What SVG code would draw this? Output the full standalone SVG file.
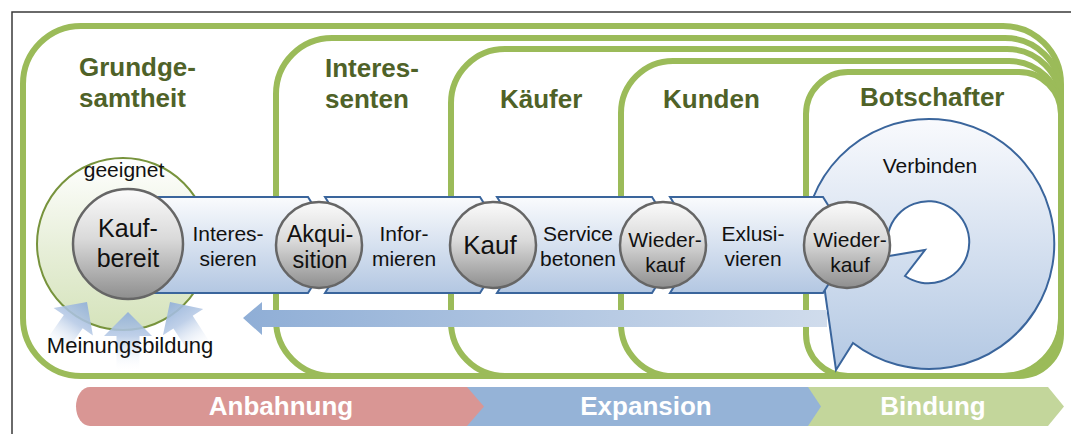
<svg xmlns="http://www.w3.org/2000/svg" width="1071" height="434" viewBox="0 0 1071 434">
  <defs>
    <linearGradient id="gBand" x1="0" y1="0" x2="0" y2="1">
      <stop offset="0" stop-color="#FAFBFD"/>
      <stop offset="1" stop-color="#B3C7E2"/>
    </linearGradient>
    <linearGradient id="gSwirl" x1="0" y1="0" x2="0" y2="1">
      <stop offset="0" stop-color="#F9FAFD"/>
      <stop offset="1" stop-color="#B3C8E3"/>
    </linearGradient>
    <linearGradient id="gBall" x1="0" y1="0" x2="0" y2="1">
      <stop offset="0" stop-color="#FBFBFB"/>
      <stop offset="0.45" stop-color="#DADADA"/>
      <stop offset="1" stop-color="#8E8E8E"/>
    </linearGradient>
    <linearGradient id="gPool" x1="0" y1="0" x2="0" y2="1">
      <stop offset="0" stop-color="#FFFFFF"/>
      <stop offset="0.55" stop-color="#E6EED7"/>
      <stop offset="1" stop-color="#D5E3BB"/>
    </linearGradient>
    <linearGradient id="gPush" x1="0" y1="0" x2="0" y2="1">
      <stop offset="0" stop-color="#93B1D8" stop-opacity="0.95"/>
      <stop offset="0.4" stop-color="#B4C8E5" stop-opacity="0.85"/>
      <stop offset="1" stop-color="#FFFFFF" stop-opacity="0"/>
    </linearGradient>
    <linearGradient id="gBack" gradientUnits="userSpaceOnUse" x1="243" y1="0" x2="827" y2="0">
      <stop offset="0" stop-color="#8FAED6"/>
      <stop offset="1" stop-color="#D0DCEC"/>
    </linearGradient>
    <path id="push" d="M0,0 L24,24 L11.5,24 L11.5,60 L-11.5,60 L-11.5,24 L-24,24 Z"/>
    <style>
      .frame { fill: none; stroke: #9BBB59; stroke-width: 6; }
      .title { font-family: "Liberation Sans", Arial, Helvetica, sans-serif; font-weight: bold; font-size: 26px; fill: #4F6228; }
      .lbl { font-family: "Liberation Sans", Arial, Helvetica, sans-serif; font-size: 21px; fill: #111; text-anchor: middle; }
      .seg { fill: url(#gBand); stroke: #3A659C; stroke-width: 2; stroke-linejoin: miter; }
      .ball { fill: url(#gBall); stroke: #666; stroke-width: 2.5; }
      .phase { font-family: "Liberation Sans", Arial, Helvetica, sans-serif; font-weight: bold; font-size: 26px; fill: #FFFFFF; text-anchor: middle; }
    </style>
  </defs>

  <!-- page border -->
  <path d="M12,434 V12 H1071" fill="none" stroke="#3A3A3A" stroke-width="1.5"/>

  <!-- nested stage frames, sharing right and bottom edges -->
  <g id="stage-grundgesamtheit">
    <path class="frame" d="M81,26 H1003 A58 58 0 0 1 1061,84 V318 A58 58 0 0 1 1003,376 H81 A58 58 0 0 1 23,318 V84 A58 58 0 0 1 81,26 Z"/>
    <text class="title" x="79" y="76">Grundge-</text>
    <text class="title" x="79" y="107">samtheit</text>
  </g>
  <g id="stage-interessenten">
    <path class="frame" d="M332,38 H1005 A56 56 0 0 1 1061,94 V320 A56 56 0 0 1 1005,376 H332 A56 56 0 0 1 276,320 V94 A56 56 0 0 1 332,38 Z"/>
    <text class="title" x="325" y="77">Interes-</text>
    <text class="title" x="325" y="108">senten</text>
  </g>
  <g id="stage-kaeufer">
    <path class="frame" d="M505,49 H1007 A54 54 0 0 1 1061,103 V322 A54 54 0 0 1 1007,376 H505 A54 54 0 0 1 451,322 V103 A54 54 0 0 1 505,49 Z"/>
    <text class="title" x="500" y="108">Käufer</text>
  </g>
  <g id="stage-kunden">
    <path class="frame" d="M673,61 H1009 A52 52 0 0 1 1061,113 V324 A52 52 0 0 1 1009,376 H673 A52 52 0 0 1 621,324 V113 A52 52 0 0 1 673,61 Z"/>
    <text class="title" x="663" y="108">Kunden</text>
  </g>
  <g id="stage-botschafter">
    <path class="frame" d="M848,72 H1019 A42 42 0 0 1 1061,114 V334 A42 42 0 0 1 1019,376 H848 A42 42 0 0 1 806,334 V114 A42 42 0 0 1 848,72 Z"/>
    <text class="title" x="860" y="106">Botschafter</text>
  </g>

  <!-- pool of suitable prospects -->
  <g id="node-geeignet">
    <circle cx="123" cy="244" r="86" fill="url(#gPool)" stroke="#77933C" stroke-width="2"/>
    <text class="lbl" x="124" y="177">geeignet</text>
  </g>

  <!-- opinion forming pushes -->
  <g id="node-meinungsbildung">
    <use href="#push" fill="url(#gPush)" transform="translate(87,302) rotate(35)"/>
    <use href="#push" fill="url(#gPush)" transform="translate(128,312)"/>
    <use href="#push" fill="url(#gPush)" transform="translate(170,302) rotate(-33)"/>
    <text class="lbl" x="130" y="353" style="font-size:22px">Meinungsbildung</text>
  </g>

  <!-- ambassador loop -->
  <g id="node-verbinden">
    <path d="M813,198 A125 125 0 1 1 853,343 L836,370 L825,292 L816,245 Z M889,256 L925,250 L905,276 A41 41 0 1 0 888,250 Z" fill="url(#gSwirl)" fill-rule="evenodd" stroke="#3A659C" stroke-width="2" stroke-linejoin="miter"/>
    <text class="lbl" x="930" y="173">Verbinden</text>
  </g>

  <g id="connectors">
    <!-- recommendation flow back to the start -->
    <path d="M243,318 L262,302 L262,310 H827 V327 H262 V335 Z" fill="url(#gBack)"/>
    <!-- process band -->
    <path class="seg" d="M120,197 H308 L338,245 L308,293 H120 Z"/>
    <path class="seg" d="M325,197 H480 L510,245 L480,293 H325 L355,245 Z"/>
    <path class="seg" d="M497,197 H652 L682,245 L652,293 H497 L527,245 Z"/>
    <path class="seg" d="M670,197 H823 L853,245 L823,293 H670 L700,245 Z"/>
    <text class="lbl" x="228" y="241">Interes-</text>
    <text class="lbl" x="228" y="266">sieren</text>
    <text class="lbl" x="404" y="241">Infor-</text>
    <text class="lbl" x="404" y="266">mieren</text>
    <text class="lbl" x="578" y="241">Service</text>
    <text class="lbl" x="578" y="266">betonen</text>
    <text class="lbl" x="753" y="241">Exlusi-</text>
    <text class="lbl" x="753" y="266">vieren</text>
  </g>

  <g id="node-kaufbereit">
    <circle class="ball" cx="128" cy="244" r="55"/>
    <text class="lbl" x="128" y="237" style="font-size:25px">Kauf-</text>
    <text class="lbl" x="128" y="267" style="font-size:25px">bereit</text>
  </g>
  <g id="node-akquisition">
    <circle class="ball" cx="319" cy="245" r="43"/>
    <text class="lbl" x="320" y="242" style="font-size:23.5px">Akqui-</text>
    <text class="lbl" x="320" y="268" style="font-size:23.5px">sition</text>
  </g>
  <g id="node-kauf">
    <circle class="ball" cx="493" cy="245" r="43"/>
    <text class="lbl" x="490" y="254" style="font-size:26px">Kauf</text>
  </g>
  <g id="node-wiederkauf-1">
    <circle class="ball" cx="663" cy="245" r="43"/>
    <text class="lbl" x="665" y="247">Wieder-</text>
    <text class="lbl" x="665" y="272">kauf</text>
  </g>
  <g id="node-wiederkauf-2">
    <circle class="ball" cx="847" cy="245" r="43"/>
    <text class="lbl" x="850" y="247">Wieder-</text>
    <text class="lbl" x="850" y="272">kauf</text>
  </g>

  <!-- phase bar -->
  <g id="phase-bindung">
    <path d="M800,387 H1048 L1064,406.5 L1048,426 H800 Z" fill="#C3D69B"/>
    <text class="phase" x="933" y="415">Bindung</text>
  </g>
  <g id="phase-expansion">
    <path d="M460,387 H808 L821,406.5 L808,426 H460 Z" fill="#95B3D7"/>
    <text class="phase" x="646" y="415">Expansion</text>
  </g>
  <g id="phase-anbahnung">
    <path d="M90,387 H467 L484,406.5 L467,426 H90 A14 19.5 0 0 1 90,387 Z" fill="#D99694"/>
    <text class="phase" x="281" y="415">Anbahnung</text>
  </g>
</svg>
